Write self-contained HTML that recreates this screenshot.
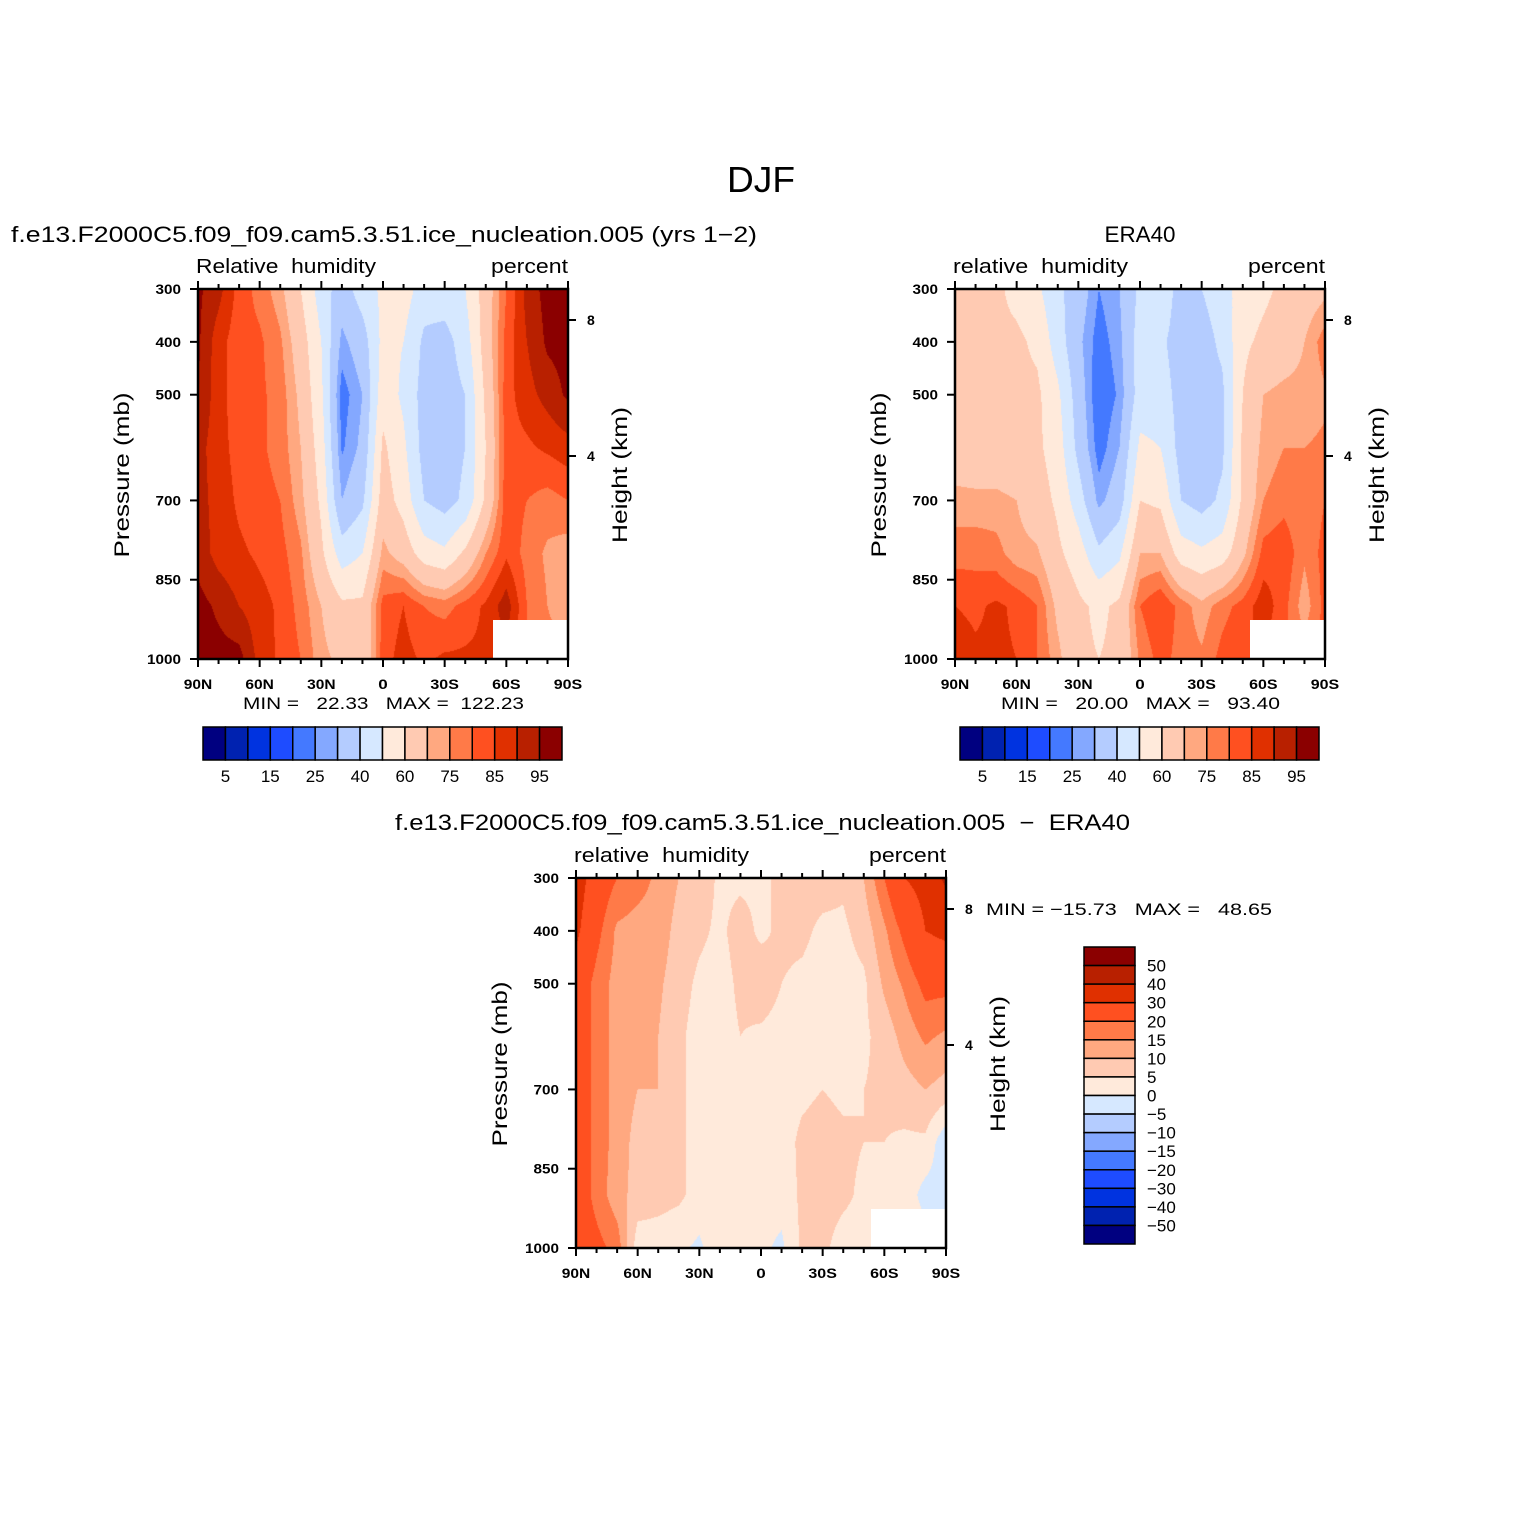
<!DOCTYPE html>
<html><head><meta charset="utf-8"><style>
body{margin:0;background:#fff;}
#wrap{position:relative;width:1524px;height:1524px;overflow:hidden;background:#fff;font-family:"Liberation Sans",sans-serif;}
canvas{position:absolute;}
svg{position:absolute;left:0;top:0;}
</style></head><body>
<div id="wrap">
<canvas id="c1" width="370" height="370" style="left:198px;top:289px"></canvas>
<canvas id="c2" width="370" height="370" style="left:955px;top:289px"></canvas>
<canvas id="c3" width="370" height="370" style="left:576px;top:878px"></canvas>
<svg id="ov" width="1524" height="1524"></svg>
</div>
<script>
const lats=["90N","80N","70N","60N","50N","40N","30N","20N","10N","0","10S","20S","30S","40S","50S","60S","70S","80S","90S"];
const levels=[300,400,500,600,700,800,900,1000];
const model=[
[96,92,83,78,72,60,45,35,45,52,55,45,46,50,65,80,92,97,97],
[96,87,82,81,76,65,50,28,35,53,50,38,36,45,65,82,90,96,97],
[95,87,82,81,78,68,52,22,30,56,48,36,35,40,62,83,88,92,96],
[92,87,83,81,78,70,55,24,32,62,52,36,35,40,60,83,84,86,88],
[92,88,84,82,80,72,58,30,38,65,56,40,36,42,62,83,80,78,80],
[93,88,86,84,82,76,62,45,50,72,66,55,52,62,75,84,78,74,72],
[97,94,90,87,84,78,70,62,62,82,85,80,78,82,86,93,80,75,70],
[97,97,97,88,84,80,72,68,60,83,87,84,86,86,86,88,80,78,78]];
const era=[
[62,62,62,57,52,42,35,25,30,42,48,35,40,45,55,58,62,65,68],
[62,62,62,62,58,45,32,22,28,45,42,35,36,42,58,62,65,70,78],
[62,62,62,62,62,52,35,20,26,45,45,36,36,38,60,70,72,72,74],
[65,63,63,62,62,55,37,22,30,52,50,36,35,38,62,72,75,75,76],
[72,72,72,70,65,58,45,28,35,60,58,40,36,42,62,75,78,76,80],
[78,78,77,72,71,62,55,42,48,70,70,55,52,55,68,82,84,76,82],
[85,84,86,84,80,68,62,58,62,80,85,78,72,78,82,88,82,72,82],
[88,86,86,85,80,72,62,60,62,76,82,78,76,82,85,85,80,78,82]];
const diff=[
[35,25,20,17,14,10,8,4,4,4,6,7,7,6,10,20,30,33,42],
[32,22,14,13,13,8,6,4,7,4,6,6,4,4,7,14,22,30,32],
[25,18,13,12,11,7,4,3,6,8,5,4,3,3,4,11,16,22,22],
[25,18,13,12,10,6,3,3,5,4,3,3,3,3,4,7,12,16,14],
[25,18,13,10,10,6,3,2,3,3,3,4,5,4,5,6,8,10,8],
[25,18,13,8,8,6,3,2,3,3,3,6,7,6,5,5,4,4,-4],
[25,18,12,8,7,6,3,3,3,2,2,6,7,6,4,4,3,-2,-2],
[25,22,18,2,2,1,-1,4,4,1,-1,6,6,3,3,3,3,3,3]];
const rhLevels=[5,10,15,20,25,30,40,50,60,70,75,80,85,90,95];
const rhLabels=["5","15","25","40","60","75","85","95"];
const dLevels=[-50,-40,-30,-20,-15,-10,-5,0,5,10,15,20,30,40,50];
const dLabels=["50","40","30","20","15","10","5","0","−5","−10","−15","−20","−30","−40","−50"];
const colors=["#000080","#0022b0","#0033e0","#1e4cff","#4479ff","#84a8ff","#b4ccff","#d6e8ff","#ffeadb","#ffcab2","#ffa880","#ff7a48","#ff5020","#e03000","#b82000","#8b0000"];
function hex(c){return [parseInt(c.substr(1,2),16),parseInt(c.substr(3,2),16),parseInt(c.substr(5,2),16)];}
function bin(v,lv){let i=0;while(i<lv.length&&v>=lv[i])i++;return i;}
function draw(id,data,lv){
 const cv=document.getElementById(id),ctx=cv.getContext('2d'),W=cv.width,H=cv.height;
 const img=ctx.createImageData(W,H);const nc=data[0].length-1,nr=data.length-1;
 const rgb=colors.map(hex);
 for(let y=0;y<H;y++){const fy=(y+0.5)/H*nr;let r=Math.min(Math.floor(fy),nr-1);const ty=fy-r;
  for(let x=0;x<W;x++){const fx=(x+0.5)/W*nc;let c=Math.min(Math.floor(fx),nc-1);const tx=fx-c;
   const v=(data[r][c]*(1-tx)+data[r][c+1]*tx)*(1-ty)+(data[r+1][c]*(1-tx)+data[r+1][c+1]*tx)*ty;
   const col=rgb[bin(v,lv)];const k=(y*W+x)*4;img.data[k]=col[0];img.data[k+1]=col[1];img.data[k+2]=col[2];img.data[k+3]=255;}}
 ctx.putImageData(img,0,0);
}
draw('c1',model,rhLevels);draw('c2',era,rhLevels);draw('c3',diff,dLevels);
const NS="http://www.w3.org/2000/svg",ov=document.getElementById('ov');
function el(t,a,txt){const e=document.createElementNS(NS,t);for(const k in a)e.setAttribute(k,a[k]);if(txt!==undefined)e.textContent=txt;ov.appendChild(e);return e;}
function txt(x,y,s,size,anchor,name,extra,len){const e=el('text',Object.assign({x:x,y:y,'font-size':size,'text-anchor':anchor||'start','font-family':'Liberation Sans, sans-serif',fill:'#000',style:'white-space:pre'},extra||{}),s);
 if(len){e.setAttribute('textLength',len);e.setAttribute('lengthAdjust','spacingAndGlyphs');}
 
 return e;}
txt(761,192,"DJF",36,'middle','figure-title',{},68);
const xLab=["90N","60N","30N","0","30S","60S","90S"];
function panel(px,py,p){
 const W=370,H=370;
 const ySc=v=>py+(v-300)/700*H, xSc=i=>px+i/18*W;
 const m=el('rect',{x:px+W-75,y:py+331,width:75,height:39,fill:'#fff'});
 
 
 const f=el('rect',{x:px,y:py,width:W,height:H,fill:'none',stroke:'#000','stroke-width':2.5});
 
 
 for(let i=0;i<=18;i++){const x=xSc(i),maj=i%3==0,L=maj?8:5;
  const t1=el('line',{x1:x,y1:py,x2:x,y2:py-L,stroke:'#000','stroke-width':2});
  
  
  const t2=el('line',{x1:x,y1:py+H,x2:x,y2:py+H+L,stroke:'#000','stroke-width':2});
  
  
  if(maj){const s=xLab[i/3];txt(x,py+H+30,s,14,'middle',p+'-x-tick-label',{'font-weight':'bold'},s.length*9.5);}}
 [300,400,500,700,850,1000].forEach(v=>{const y=ySc(v);
  const t=el('line',{x1:px,y1:y,x2:px-8,y2:y,stroke:'#000','stroke-width':2});
  
  
  const s=String(v);txt(px-17,y+5,s,14,'end',p+'-y-tick-label',{'font-weight':'bold'},s.length*8.5);});
 [[8,31],[4,167]].forEach(h=>{const y=py+h[1];
  const t=el('line',{x1:px+W,y1:y,x2:px+W+8,y2:y,stroke:'#000','stroke-width':2});
  
  
  txt(px+W+19,y+5,String(h[0]),14,'start',p+'-height-tick-label',{'font-weight':'bold'});});
 txt(0,0,"Pressure (mb)",21,'middle',p+'-y-axis-title',{transform:`translate(${px-69},${py+186}) rotate(-90)`},165);
 txt(0,0,"Height (km)",21,'middle',p+'-height-axis-title',{transform:`translate(${px+W+59},${py+186}) rotate(-90)`},136);
}
panel(198,289,'model');panel(955,289,'era40');panel(576,878,'diff');
txt(11,242,"f.e13.F2000C5.f09_f09.cam5.3.51.ice_nucleation.005 (yrs 1−2)",22,'start','model-title',{},746);
txt(196,273,"Relative  humidity",20,'start','model-left-subtitle',{},180);
txt(568,273,"percent",20,'end','model-right-subtitle',{},77);
txt(243,709,"MIN =   22.33   MAX =  122.23",17,'start','model-min-max',{},281);
txt(1140,242,"ERA40",22,'middle','era40-title',{},71);
txt(953,273,"relative  humidity",20,'start','era40-left-subtitle',{},175);
txt(1325,273,"percent",20,'end','era40-right-subtitle',{},77);
txt(1001,709,"MIN =   20.00   MAX =   93.40",17,'start','era40-min-max',{},279);
txt(395,830,"f.e13.F2000C5.f09_f09.cam5.3.51.ice_nucleation.005  −  ERA40",22,'start','diff-title',{},735);
txt(574,862,"relative  humidity",20,'start','diff-left-subtitle',{},175);
txt(946,862,"percent",20,'end','diff-right-subtitle',{},77);
txt(986,915,"MIN = −15.73   MAX =   48.65",17,'start','diff-min-max',{},286);
function hbar(x0,y0,name){const w=359/16;
 colors.forEach((c,i)=>{const r=el('rect',{x:x0+i*w,y:y0,width:w,height:33,fill:c,stroke:'#000','stroke-width':1.5});
  
  });
 rhLabels.forEach((l,j)=>txt(x0+(2*j+1)*w,y0+55,l,17,'middle',name+'-label'));}
hbar(203,727,'model-colorbar');hbar(960,727,'era40-colorbar');
const vh=297/16;
colors.slice().reverse().forEach((c,i)=>{const r=el('rect',{x:1084,y:947+i*vh,width:51,height:vh,fill:c,stroke:'#000','stroke-width':1.5});
 
 });
dLabels.forEach((l,j)=>txt(1147,947+(j+1)*vh+6,l,17,'start','diff-colorbar-label'));
</script>
</body></html>
